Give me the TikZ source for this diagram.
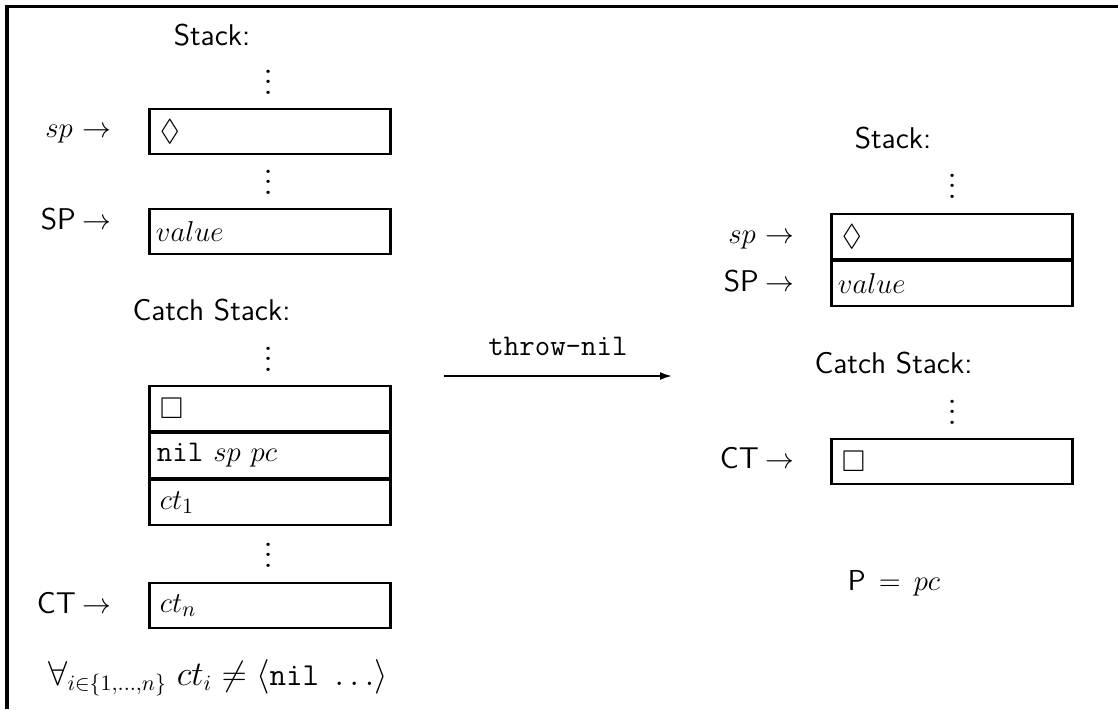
\documentclass[tikz,border=0pt]{standalone}
\usepackage{amssymb}
\usepackage{graphicx}
\usetikzlibrary{arrows.meta}
\newcommand\fsz{\fontsize{15}{18}\selectfont}
\newcommand\vdts{\scalebox{1.35}{$\vdots$}}
\begin{document}
\begin{tikzpicture}[x=0.5pt,y=-0.5pt,
  every node/.style={inner sep=0pt, font=\fsz},
  cell/.style={draw, line width=1.4pt, minimum width=120.5pt, minimum height=22.5pt,
    text width=110pt, inner xsep=5.25pt, align=left, anchor=north west},
  lbl/.style={anchor=base east},
  ttl/.style={anchor=base, font=\fsz\sffamily},
  dts/.style={anchor=south}]
\useasboundingbox (0,0) rectangle (1118,709);
% frame
\draw[line width=1.7pt] (7,709) -- (7,6.5) -- (1118,6.5);

% left column
\node[ttl] (lstack) at (212,45) {Stack:};
\node[dts] (ld1) at (269,95) {\vdts};
\node[cell] (lb1) at (148,107.5) {$\Diamond$};
\node[lbl] (lsp) at (112,137.5) {$sp\hspace{1pt}\rightarrow$};
\node[dts] (ld2) at (269,195) {\vdts};
\node[cell] (lb2) at (148,207.5) {\hspace{-2pt}$value$};
\node[lbl] (lSP) at (112,229.5) {\sffamily SP\hspace{3.5pt}$\rightarrow$};

\node[ttl] (lcs) at (211.5,320) {Catch Stack:};
\node[dts] (ld3) at (269,372) {\vdts};
\node[cell] (lc1) at (148,384.5) {$\Box$};
\node[cell] (lc2) at (148,431.5) {\hspace{-1.5pt}\texttt{nil} $sp$ $pc$};
\node[cell] (lc3) at (148,478.5) {$ct_1$};
\node[dts] (ld4) at (269,568) {\vdts};
\node[cell] (lc4) at (148,581.5) {$ct_n$};
\node[lbl] (lCT) at (112,613) {\sffamily CT\hspace{3.5pt}$\rightarrow$};
\node[anchor=base west, font=\fontsize{16}{19}\selectfont] (lform) at (48,685) {$\forall_{i\in\{1,\ldots,n\}}\ ct_i \neq \langle\texttt{nil}\ \ldots\rangle$};

% transition arrow
\coordinate (astart) at (444,376);
\coordinate (aend) at (672,376);
\draw[line width=1pt,-{Latex[length=6pt,width=4pt]}] (astart) -- node[above=9.5pt] (alab) {\texttt{throw-nil}} (aend);

% right column
\node[ttl] (rstack) at (893,148) {Stack:};
\node[dts] (rd1) at (953,199) {\vdts};
\node[cell] (rb1) at (830,212.5) {$\Diamond$};
\node[cell] (rb2) at (830,259.5) {\hspace{-2pt}$value$};
\node[lbl] (rsp) at (795,243) {$sp\hspace{1pt}\rightarrow$};
\node[lbl] (rSP) at (795,291) {\sffamily SP\hspace{3.5pt}$\rightarrow$};

\node[ttl] (rcs) at (893.5,373) {Catch Stack:};
\node[dts] (rd2) at (953,425) {\vdts};
\node[cell] (rc1) at (830,437.5) {$\Box$};
\node[lbl] (rCT) at (795,468) {\sffamily CT\hspace{3.5pt}$\rightarrow$};

\node[anchor=base] (rP) at (894,590) {$\mathsf{P}\hspace{2.5pt}=\hspace{2.5pt}pc$};
\end{tikzpicture}
\end{document}
